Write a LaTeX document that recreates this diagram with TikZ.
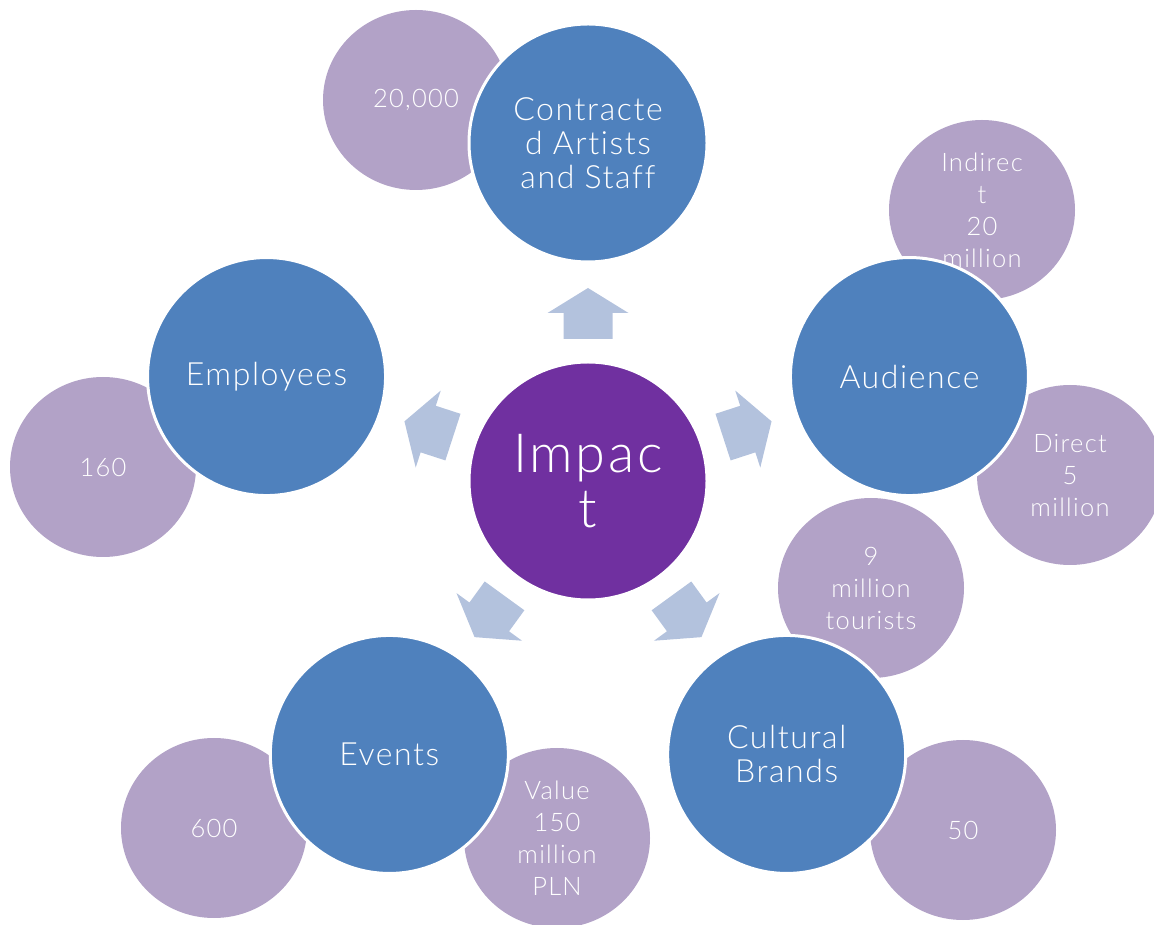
\documentclass[tikz,border=0pt]{standalone}
\usepackage{fontspec}
\setmainfont{Lato Light}[LetterSpace=5, Ligatures=NoCommon]
\usepackage{tikz}
\usetikzlibrary{shapes,arrows,positioning}
\definecolor{impactpurple}{RGB}{112,48,160}
\definecolor{areablue}{RGB}{79,129,189}
\definecolor{factlilac}{RGB}{178,162,199}
\definecolor{arrowgrey}{RGB}{179,194,221}
\tikzstyle{hub} = [circle, draw=white, line width=3pt, fill=impactpurple, text=white, minimum size=238pt, inner sep=0pt, align=center, font=\fontsize{54}{55}\selectfont]
\tikzstyle{area} = [circle, draw=white, line width=3pt, fill=areablue, text=white, minimum size=238pt, inner sep=0pt, align=center, font=\fontsize{32}{34}\selectfont]
\tikzstyle{fact} = [ellipse, fill=factlilac, text=white, minimum width=186pt, minimum height=180pt, inner sep=0pt, align=center, font=\fontsize{25.5}{32}\selectfont]
\tikzstyle{blockarrow} = [fill=arrowgrey]

\begin{document}
\begin{tikzpicture}[x=1pt, y=1pt]
    \useasboundingbox (0,0) rectangle (1154,924);
    \coordinate (mid) at (588,443);
    % Place nodes
    \node [fact] (staffnum) at (416,824) {20,000};
    \node [fact] (indirect) at (982,714) {Indirec\\t\\20\\million};
    \node [fact] (direct) at (1070,449) {Direct\\5\\million};
    \node [fact] (tourists) at (871,336) {9\\million\\tourists};
    \node [fact] (brandnum) at (963,94) {50};
    \node [fact] (value) at (557,86) {Value\\150\\million\\PLN};
    \node [fact] (eventnum) at (214,96) {600};
    \node [fact] (employeenum) at (103,457) {160};
    \node [area] (staff) at ([shift={(90:338)}]mid) {Contracte\\d Artists\\and Staff};
    \node [area] (audience) at ([shift={(18:338)}]mid) {Audience};
    \node [area] (brands) at ([shift={(-54:338)}]mid) {Cultural\\Brands};
    \node [area] (events) at ([shift={(-126:338)}]mid) {Events};
    \node [area] (employees) at ([shift={(162:338)}]mid) {Employees};
    \node [hub] (impact) at (mid) {Impac\\t};
    % Draw arrows
    \foreach \a in {90,18,-54,-126,162}
        \fill [blockarrow, shift={(impact.center)}, rotate=\a-90] (-24.5,142) -- (-24.5,168) -- (-40.5,168) -- (0,193) -- (40.5,168) -- (24.5,168) -- (24.5,142) -- cycle;

\end{tikzpicture}
\end{document}
